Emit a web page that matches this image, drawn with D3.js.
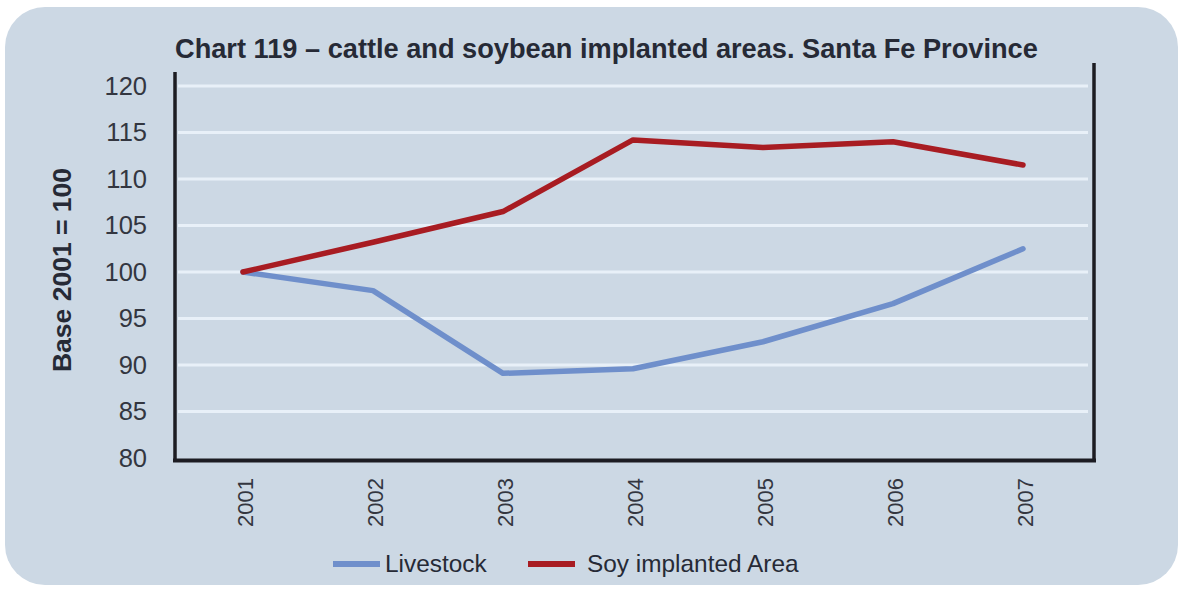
<!DOCTYPE html>
<html>
<head>
<meta charset="utf-8">
<script src="https://cdn.jsdelivr.net/npm/d3@7"></script>
<style>
  html, body { margin: 0; padding: 0; background: #ffffff; }
  svg { display: block; }
  text { font-family: "Liberation Sans", Arial, sans-serif; }
</style>
</head>
<body>
<script>
const years = ["2001", "2002", "2003", "2004", "2005", "2006", "2007"];
const livestock = [100, 98.0, 89.1, 89.6, 92.5, 96.6, 102.5];
const soy = [100, 103.2, 106.5, 114.2, 113.4, 114.0, 111.5];
const yTicks = [80, 85, 90, 95, 100, 105, 110, 115, 120];
const seriesNames = ["Livestock", "Soy implanted Area"];
const titleText = "Chart 119 \u2013 cattle and soybean implanted areas. Santa Fe Province";
const yTitle = "Base 2001 = 100";

const W = 1182, H = 589;
const colors = { livestock: "#6f8fcb", soy: "#a81c22" };

const svg = d3.select("body").append("svg").attr("width", W).attr("height", H);

// background panel
svg.append("rect")
  .attr("x", 5).attr("y", 7).attr("width", 1173).attr("height", 578)
  .attr("rx", 40).attr("ry", 40)
  .attr("fill", "#ccd8e4");

const x = d3.scaleBand().domain(years).range([178, 1088]);
const y = d3.scaleLinear().domain([80, 120]).range([458, 86]);

// gridlines
svg.append("g").selectAll("line").data(yTicks.filter(d => d > 80)).join("line")
  .attr("x1", 178).attr("x2", 1088)
  .attr("y1", d => y(d)).attr("y2", d => y(d))
  .attr("stroke", "#e8f0f8").attr("stroke-width", 3);

// y axis labels
const yAxis = d3.axisLeft(y).tickValues(yTicks).tickSize(0).tickPadding(0);
const gy = svg.append("g").attr("transform", "translate(147,0)").call(yAxis);
gy.select(".domain").remove();
gy.selectAll("text")
  .attr("font-size", 25.5).attr("fill", "#333640")
  .attr("font-family", "'Liberation Sans', Arial, sans-serif");

// x axis labels
const xAxis = d3.axisBottom(x).tickSize(0).tickPadding(0);
const gx = svg.append("g").attr("transform", "translate(0,478)").call(xAxis);
gx.select(".domain").remove();
gx.selectAll(".tick").attr("transform", d => `translate(${x(d) + x.bandwidth() / 2 + 2},0)`);
gx.selectAll("text")
  .attr("font-size", 22).attr("fill", "#333640")
  .attr("font-family", "'Liberation Sans', Arial, sans-serif")
  .attr("text-anchor", "end")
  .attr("x", 0).attr("y", 0)
  .attr("dy", "0.35em")
  .attr("transform", "rotate(-90)");

// axis frame lines
svg.append("line").attr("x1", 175).attr("x2", 175).attr("y1", 72).attr("y2", 462)
  .attr("stroke", "#1c1c22").attr("stroke-width", 3.5);
svg.append("line").attr("x1", 1094).attr("x2", 1094).attr("y1", 63).attr("y2", 462)
  .attr("stroke", "#1c1c22").attr("stroke-width", 3.5);
svg.append("line").attr("x1", 173).attr("x2", 1096).attr("y1", 460.5).attr("y2", 460.5)
  .attr("stroke", "#1c1c22").attr("stroke-width", 4);

// lines
const line = d3.line()
  .x((d, i) => x(years[i]) + x.bandwidth() / 2)
  .y(d => y(d));

svg.append("path").datum(livestock)
  .attr("d", line).attr("fill", "none")
  .attr("stroke", colors.livestock).attr("stroke-width", 5.5)
  .attr("stroke-linejoin", "round").attr("stroke-linecap", "round");
svg.append("path").datum(soy)
  .attr("d", line).attr("fill", "none")
  .attr("stroke", colors.soy).attr("stroke-width", 5.5)
  .attr("stroke-linejoin", "round").attr("stroke-linecap", "round");

// title
svg.append("text")
  .attr("x", 175).attr("y", 58)
  .attr("font-size", 27.2).attr("font-weight", "bold").attr("fill", "#262a36")
  .text(titleText);

// y title
svg.append("text")
  .attr("transform", "translate(71,270) rotate(-90)")
  .attr("text-anchor", "middle")
  .attr("font-size", 26.5).attr("font-weight", "bold").attr("fill", "#262a36")
  .text(yTitle);

// legend
const legendItems = [
  { name: seriesNames[0], color: colors.livestock, x1: 333, x2: 380, tx: 385 },
  { name: seriesNames[1], color: colors.soy, x1: 528, x2: 575, tx: 587 }
];
const lg = svg.append("g");
lg.selectAll("line").data(legendItems).join("line")
  .attr("x1", d => d.x1).attr("x2", d => d.x2)
  .attr("y1", 564).attr("y2", 564)
  .attr("stroke", d => d.color).attr("stroke-width", 6);
lg.selectAll("text").data(legendItems).join("text")
  .attr("x", d => d.tx).attr("y", 572)
  .attr("font-size", 24.4).attr("fill", "#262a36")
  .text(d => d.name);
</script>
</body>
</html>
